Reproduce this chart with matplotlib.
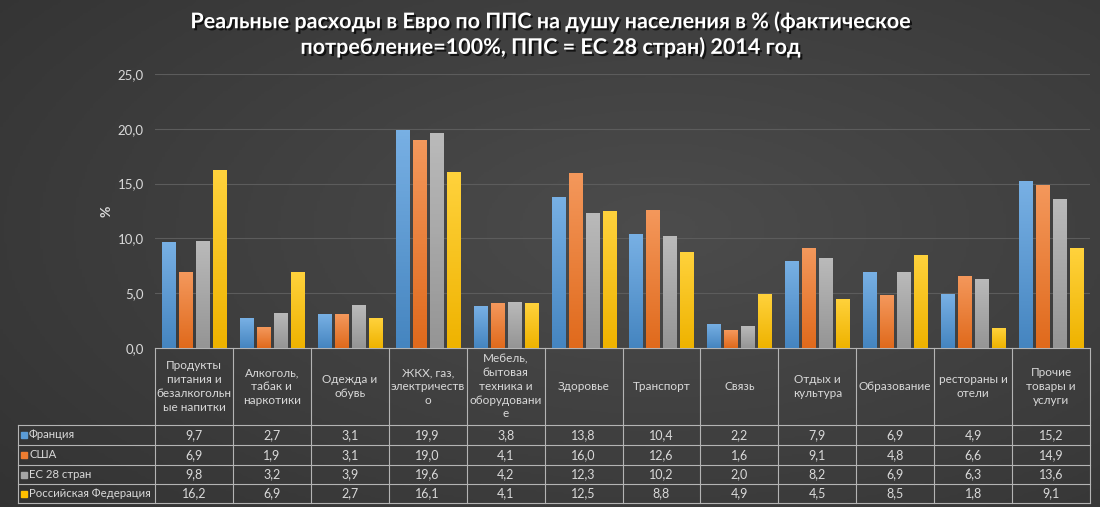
import numpy as np
import matplotlib
matplotlib.use('Agg')
import matplotlib.pyplot as plt
import matplotlib.patheffects as pe
from matplotlib.colors import LinearSegmentedColormap
from matplotlib.lines import Line2D
from matplotlib.transforms import blended_transform_factory

plt.rcParams['font.family'] = ['Lato', 'DejaVu Sans']

categories = ['Продукты\nпитания и\nбезалкогольн\nые напитки', 'Алкоголь,\nтабак и\nнаркотики',
              'Одежда и\nобувь', 'ЖКХ, газ,\nэлектричеств\nо',
              'Мебель,\nбытовая\nтехника и\nоборудовани\nе', 'Здоровье', 'Транспорт', 'Связь',
              'Отдых и\nкультура', 'Образование', 'рестораны и\nотели', 'Прочие\nтовары и\nуслуги']
series = ['Франция', 'США', 'ЕС 28 стран', 'Российская Федерация']
france = [9.7, 2.7, 3.1, 19.9, 3.8, 13.8, 10.4, 2.2, 7.9, 6.9, 4.9, 15.2]
usa = [6.9, 1.9, 3.1, 19.0, 4.1, 16.0, 12.6, 1.6, 9.1, 4.8, 6.6, 14.9]
eu28 = [9.8, 3.2, 3.9, 19.6, 4.2, 12.3, 10.2, 2.0, 8.2, 6.9, 6.3, 13.6]
russia = [16.2, 6.9, 2.7, 16.1, 4.1, 12.5, 8.8, 4.9, 4.5, 8.5, 1.8, 9.1]
y_ticks = [0, 5, 10, 15, 20, 25]

values = [france, usa, eu28, russia]
colors = ['#5b9bd5', '#ed7d31', '#a5a5a5', '#ffc000']
tops = ['#78b0e4', '#f4985c', '#bababa', '#ffd23c']
bottoms = ['#4585c0', '#e06a1c', '#959595', '#efb300']
txt = '#d9d9d9'
linec = '#b4b4b4'


def fmt(v):
    return ('%.1f' % v).replace('.', ',')


fig = plt.figure(figsize=(11, 5.07), dpi=100)

# background
bg = fig.add_axes([0, 0, 1, 1], zorder=-5)
yy, xx = np.mgrid[0:1:200j, 0:1:400j]
d = np.sqrt(((xx - 0.6) / 0.8) ** 2 + ((yy - 0.45) / 0.85) ** 2)
bgmap = LinearSegmentedColormap.from_list('bg', ['#4c4c4c', '#303030'])
bg.imshow(d, cmap=bgmap, extent=[0, 1, 0, 1], aspect='auto', vmin=0, vmax=1.1)
bg.axis('off')

ax = fig.add_axes([155 / 1100, 1 - 348 / 507, 935 / 1100, 274 / 507])
ax.patch.set_alpha(0)

x = np.arange(len(categories))
w = 0.167
step = 0.218
grad = np.linspace(0, 1, 64).reshape(-1, 1)
for k, vals in enumerate(values):
    bars = ax.bar(x + (k - 1.5) * step, vals, w, color=colors[k], zorder=3, label=series[k])
    cm = LinearSegmentedColormap.from_list('g%d' % k, [bottoms[k], tops[k]])
    for b in bars:
        im = ax.imshow(grad, cmap=cm, origin='lower', aspect='auto', zorder=3.1,
                       extent=[b.get_x(), b.get_x() + b.get_width(), 0, b.get_height()])
        im.set_clip_path(b)

ax.set_xlim(-0.5, len(categories) - 0.5)
ax.set_ylim(0, 25)
ax.set_yticks(y_ticks)
ax.set_yticklabels([fmt(v) for v in y_ticks], color=txt, fontsize=9.5)
ax.set_xticks([])
ax.tick_params(axis='y', length=0, pad=8)
ax.yaxis.grid(True, color='#5c5c5c', lw=0.8)
ax.set_axisbelow(True)
for s in ['top', 'right', 'left']:
    ax.spines[s].set_visible(False)
ax.spines['bottom'].set_color(linec)
ax.spines['bottom'].set_linewidth(0.8)
ax.set_ylabel('%', color=txt, fontsize=10, fontweight='bold', labelpad=4)

# data table
tr = blended_transform_factory(ax.transData, fig.transFigure)
pos = ax.get_position()
rows = [1 - p / 507 for p in [425, 445, 465, 484, 503]]
left = 18 / 1100
for i in range(len(categories) + 1):
    fig.add_artist(Line2D([i - 0.5, i - 0.5], [rows[-1], pos.y0], transform=tr, color=linec, lw=0.8))
for yv in rows:
    fig.add_artist(Line2D([left, pos.x1], [yv, yv], transform=fig.transFigure, color=linec, lw=0.8))
fig.add_artist(Line2D([left, left], [rows[-1], rows[0]], transform=fig.transFigure, color=linec, lw=0.8))

for i, c in enumerate(categories):
    fig.text(i, (pos.y0 + rows[0]) / 2, c, transform=tr, ha='center', va='center',
             multialignment='center', color=txt, fontsize=8.5, linespacing=1.3)
for k, vals in enumerate(values):
    yc = (rows[k] + rows[k + 1]) / 2
    for i, v in enumerate(vals):
        fig.text(i, yc, fmt(v), transform=tr, ha='center', va='center', color=txt, fontsize=9)
    fig.add_artist(Line2D([24 / 1100], [yc], transform=fig.transFigure, marker='s', markersize=5,
                          color=colors[k], lw=0))
    fig.text(29 / 1100, yc, series[k], ha='left', va='center', color=txt, fontsize=8.2)

fig.text(0.5, 1 - 34 / 507,
         'Реальные расходы в Евро по ППС на душу населения в % (фактическое\n'
         'потребление=100%, ППС = ЕС 28 стран) 2014 год',
         ha='center', va='center', color='white', fontsize=15.5, fontweight='bold', linespacing=1.2,
         path_effects=[pe.withSimplePatchShadow(offset=(1.5, -1.5), shadow_rgbFace='black', alpha=0.7)])

fig.savefig('out.png', dpi=100)
